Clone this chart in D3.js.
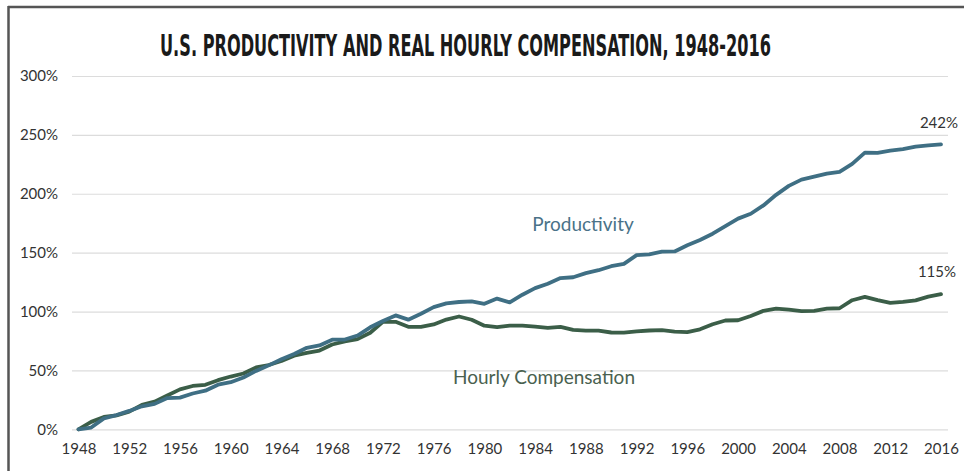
<!DOCTYPE html>
<html>
<head>
<meta charset="utf-8">
<script src="https://cdn.jsdelivr.net/npm/d3@7"></script>
<style>
  html, body { margin: 0; padding: 0; background: #fff; }
  svg { display: block; }
</style>
</head>
<body>
<svg id="chart" width="964" height="471"></svg>
<script>
const title = "U.S. PRODUCTIVITY AND REAL HOURLY COMPENSATION, 1948-2016";
const years = d3.range(1948, 2017);
const productivity = [
  0.0, 1.5, 9.3, 12.1, 15.6, 19.5, 21.6, 26.5, 26.9, 30.4,
  32.8, 37.9, 40.0, 44.0, 49.6, 54.3, 59.5, 63.9, 69.2, 71.2,
  76.1, 76.2, 79.6, 86.6, 92.0, 96.7, 93.1, 98.1, 103.7, 106.9,
  108.1, 108.6, 106.6, 111.0, 107.8, 114.3, 119.9, 123.6, 128.4, 129.1,
  132.6, 135.1, 138.5, 140.5, 147.9, 148.6, 150.9, 151.0, 156.3, 160.8,
  166.1, 172.5, 178.9, 183.0, 190.1, 199.1, 206.7, 212.0, 214.5, 217.1,
  218.6, 225.4, 234.9, 234.8, 236.6, 238.0, 240.1, 241.1, 241.9
];
const compensation = [
  0.0, 6.3, 10.5, 11.8, 15.0, 20.8, 23.5, 28.7, 33.9, 36.8,
  37.8, 41.7, 44.8, 47.4, 52.5, 54.6, 58.0, 62.5, 64.9, 66.9,
  72.0, 74.7, 76.6, 82.0, 91.3, 91.3, 87.0, 86.9, 89.0, 93.2,
  95.8, 93.0, 88.0, 86.8, 88.0, 88.1, 87.2, 86.2, 87.0, 84.5,
  83.8, 83.8, 82.2, 82.1, 83.2, 83.9, 84.2, 83.0, 82.6, 84.9,
  89.2, 92.4, 92.6, 96.2, 100.6, 102.5, 101.6, 100.4, 100.6, 102.5,
  102.8, 109.6, 112.5, 109.7, 107.3, 108.2, 109.5, 112.6, 114.7
];
const yTicks = [0, 50, 100, 150, 200, 250, 300];
const xTicks = d3.range(1948, 2017, 4);
const seriesNames = ["Productivity", "Hourly Compensation"];
const endLabels = ["242%", "115%"];

const svg = d3.select("#chart");
const x = d3.scaleLinear().domain([1948, 2016]).range([78.5, 941]);
const y = d3.scaleLinear().domain([0, 300]).range([429.3, 76]);

// frame
svg.append("line").attr("x1", 8).attr("x2", 964).attr("y1", 7).attr("y2", 7)
  .attr("stroke", "#555").attr("stroke-width", 2.5);
svg.append("line").attr("x1", 8.5).attr("x2", 8.5).attr("y1", 6).attr("y2", 471)
  .attr("stroke", "#555").attr("stroke-width", 2.5);

// title: condensed by measured horizontal scale
const t = svg.append("text")
  .attr("x", 0).attr("y", 0)
  .style("font-family", "'Liberation Sans Narrow', 'DejaVu Sans Condensed', sans-serif")
  .style("font-weight", "bold").style("font-size", "31px").attr("fill", "#1a1a1a")
  .text(title);
const natural = t.node().getComputedTextLength();
const sx = 611 / natural;
t.attr("transform", `translate(160,56) scale(${sx},1)`);

// grid + y axis
const yAxis = d3.axisLeft(y).tickValues(yTicks).tickSize(-(948 - 72)).tickPadding(14)
  .tickFormat(d => d + "%");
const gy = svg.append("g").attr("transform", "translate(72,0)").call(yAxis);
gy.select(".domain").remove();
gy.selectAll(".tick line").attr("stroke", "#dcdcdc").attr("stroke-width", 1.2);
gy.selectAll(".tick text").attr("fill", "#333")
  .style("font-family", "Lato, sans-serif").style("font-size", "15px");

// x axis
const xAxis = d3.axisBottom(x).tickValues(xTicks).tickSize(0).tickPadding(14)
  .tickFormat(d3.format("d"));
const gx = svg.append("g").attr("transform", "translate(0,429.3)").call(xAxis);
gx.select(".domain").remove();
gx.selectAll(".tick text").attr("fill", "#333")
  .style("font-family", "Lato, sans-serif").style("font-size", "15px");

const line = d3.line().x((d, i) => x(years[i])).y(d => y(d));

svg.append("path").datum(compensation).attr("d", line)
  .attr("fill", "none").attr("stroke", "#3b5e48").attr("stroke-width", 3.8)
  .attr("stroke-linejoin", "round").attr("stroke-linecap", "round");
svg.append("path").datum(productivity).attr("d", line)
  .attr("fill", "none").attr("stroke", "#3f6f84").attr("stroke-width", 3.8)
  .attr("stroke-linejoin", "round").attr("stroke-linecap", "round");

// series labels
svg.append("text").attr("x", 583).attr("y", 231).attr("text-anchor", "middle")
  .style("font-family", "Lato, sans-serif").style("font-size", "19px")
  .attr("fill", "#4a7288").text(seriesNames[0]);
svg.append("text").attr("x", 544).attr("y", 384).attr("text-anchor", "middle")
  .style("font-family", "Lato, sans-serif").style("font-size", "19px")
  .attr("fill", "#4a614f").text(seriesNames[1]);

// end labels
svg.append("text").attr("x", 958).attr("y", 128).attr("text-anchor", "end")
  .style("font-family", "Lato, sans-serif").style("font-size", "15px")
  .attr("fill", "#333").text(endLabels[0]);
svg.append("text").attr("x", 956).attr("y", 277).attr("text-anchor", "end")
  .style("font-family", "Lato, sans-serif").style("font-size", "15px")
  .attr("fill", "#333").text(endLabels[1]);
</script>
</body>
</html>
